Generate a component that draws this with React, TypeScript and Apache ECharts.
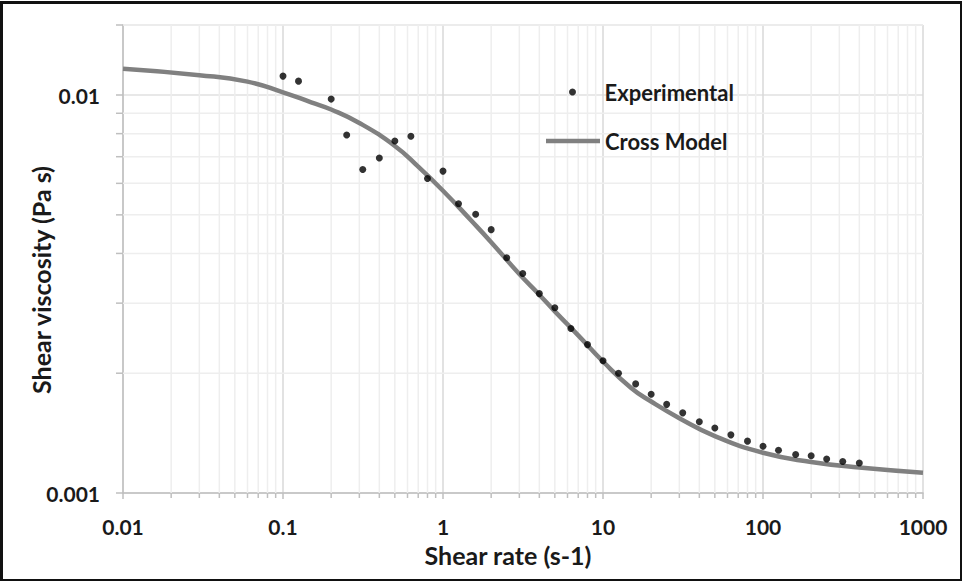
import React, { useEffect, useRef } from "react";
import * as echarts from "echarts";

const X_MIN = 0.01;
const X_MAX = 1000;
const Y_MIN = 0.001;
const Y_MAX = 0.015;

const xExp = [0.1, 0.125, 0.2, 0.25, 0.315, 0.4, 0.5, 0.63, 0.8, 1, 1.25, 1.6, 2, 2.5, 3.15, 4, 5, 6.3, 8, 10, 12.5, 16, 20, 25, 31.5, 40, 50, 63, 80, 100, 125, 160, 200, 250, 315, 400];
const yExp = [0.01116, 0.01084, 0.00977, 0.00794, 0.0065, 0.00695, 0.00767, 0.00788, 0.00617, 0.00644, 0.00533, 0.00502, 0.00459, 0.0039, 0.00356, 0.00317, 0.00292, 0.00259, 0.00236, 0.00215, 0.002, 0.00188, 0.00177, 0.00167, 0.00159, 0.00151, 0.001456, 0.0014, 0.00135, 0.00131, 0.00128, 0.00125, 0.00124, 0.001217, 0.0012, 0.00119];

const xModel = [0.01, 0.03, 0.06, 0.1, 0.15, 0.2, 0.3, 0.5, 0.7, 1, 1.5, 2, 3, 4, 5, 7, 10, 15, 20, 30, 50, 100, 200, 400, 1000];
const yModel = [0.01164, 0.01122, 0.01081, 0.01016, 0.00959, 0.0092, 0.00851, 0.00745, 0.00661, 0.00575, 0.00484, 0.00427, 0.00355, 0.00315, 0.00286, 0.00249, 0.00214, 0.001837, 0.001698, 0.001542, 0.00139, 0.001262, 0.001197, 0.001159, 0.001125];

const xMinorGrid = [0.02, 0.03, 0.04, 0.05, 0.06, 0.07, 0.08, 0.09, 0.2, 0.3, 0.4, 0.5, 0.6, 0.7, 0.8, 0.9, 2, 3, 4, 5, 6, 7, 8, 9, 20, 30, 40, 50, 60, 70, 80, 90, 200, 300, 400, 500, 600, 700, 800, 900];
const yMinorGrid = [0.002, 0.003, 0.004, 0.005, 0.006, 0.007, 0.008, 0.009, 0.015];

const seriesNames = ["Experimental", "Cross Model"];
const xTitle = "Shear rate (s-1)";
const yTitle = "Shear viscosity (Pa s)";

const FONT = "Lato, 'Open Sans', sans-serif";
const TXT = "#1a1a1a";

function fmt(v: number) {
  const l = Math.log10(v);
  if (Math.abs(l - Math.round(l)) > 1e-6) return "";
  return String(Number(v.toPrecision(6)));
}

export default function App() {
  const ref = useRef<HTMLDivElement>(null);
  useEffect(() => {
    if (!ref.current) return;
    const chart = echarts.init(ref.current, undefined, { renderer: "svg" });
    const legendText = { fontFamily: FONT, fontWeight: "bold", fontSize: 22, color: TXT };
    const option: any = {
      animation: false,
      backgroundColor: "#ffffff",
      grid: { left: 123, right: 40, top: 25, bottom: 88, containLabel: false },
      graphic: [
        {
          type: "text",
          x: 41,
          y: 280,
          rotation: Math.PI / 2,
          silent: true,
          style: {
            text: yTitle,
            fontFamily: FONT,
            fontWeight: "bold",
            fontSize: 25,
            fill: TXT,
            align: "center",
            verticalAlign: "middle",
          },
        },
      ],
      legend: [
        {
          data: [{ name: seriesNames[0], icon: "circle" }],
          left: 569,
          top: 81,
          padding: 0,
          itemWidth: 54,
          itemHeight: 7,
          itemStyle: { color: "#000000" },
          textStyle: legendText,
        },
        {
          data: [{ name: seriesNames[1], icon: "rect" }],
          left: 546,
          top: 130,
          padding: 0,
          itemWidth: 54,
          itemHeight: 4.5,
          itemStyle: { color: "#808080" },
          textStyle: legendText,
        },
      ],
      xAxis: {
        type: "log",
        logBase: 10,
        min: X_MIN,
        max: X_MAX,
        name: xTitle,
        nameLocation: "middle",
        nameGap: 49,
        nameTextStyle: { fontFamily: FONT, fontWeight: "bold", fontSize: 25, color: TXT, padding: [0, 30, 0, 0] },
        axisLine: { show: true, lineStyle: { color: "#bfbfbf", width: 1.5 } },
        axisTick: { show: true, length: 6, lineStyle: { color: "#bfbfbf", width: 1.5 } },
        axisLabel: { margin: 23, formatter: fmt, fontFamily: FONT, fontWeight: "bold", fontSize: 21, color: TXT },
        splitLine: { show: true, lineStyle: { color: "#d9d9d9", width: 1.5 } },
      },
      yAxis: {
        type: "log",
        logBase: 10,
        min: Y_MIN,
        max: Y_MAX,
        axisLine: { show: true, lineStyle: { color: "#bfbfbf", width: 1.5 } },
        axisTick: { show: true, length: 7, lineStyle: { color: "#bfbfbf", width: 1.5 } },
        axisLabel: { margin: 23, formatter: fmt, fontFamily: FONT, fontWeight: "bold", fontSize: 21, color: TXT, showMaxLabel: false },
        splitLine: { show: true, lineStyle: { color: "#e0e0e0", width: 1.5 } },
      },
      series: [
        {
          type: "custom",
          name: "xgrid",
          z: 1,
          silent: true,
          clip: false,
          data: xMinorGrid.map((v) => [v, Y_MIN]),
          renderItem: (params: any, api: any) => {
            const v = api.value(0);
            const p0 = api.coord([v, Y_MIN]);
            const p1 = api.coord([v, Y_MAX]);
            return {
              type: "group",
              children: [
                { type: "line", shape: { x1: p0[0], y1: p0[1], x2: p1[0], y2: p1[1] }, style: { stroke: "#eeeeee", lineWidth: 1.5 } },
                { type: "line", shape: { x1: p0[0], y1: p0[1], x2: p0[0], y2: p0[1] + 5 }, style: { stroke: "#bfbfbf", lineWidth: 1.5 } },
              ],
            };
          },
        },
        {
          type: "custom",
          name: "ygrid",
          z: 1,
          silent: true,
          clip: false,
          data: yMinorGrid.map((v) => [X_MIN, v]),
          renderItem: (params: any, api: any) => {
            const v = api.value(1);
            const p0 = api.coord([X_MIN, v]);
            const p1 = api.coord([X_MAX, v]);
            return {
              type: "group",
              children: [
                { type: "line", shape: { x1: p0[0], y1: p0[1], x2: p1[0], y2: p1[1] }, style: { stroke: "#eeeeee", lineWidth: 1.5 } },
                { type: "line", shape: { x1: p0[0] - 7, y1: p0[1], x2: p0[0], y2: p0[1] }, style: { stroke: "#bfbfbf", lineWidth: 1.5 } },
              ],
            };
          },
        },
        {
          type: "line",
          name: seriesNames[1],
          z: 3,
          data: xModel.map((x, i) => [x, yModel[i]]),
          smooth: 0.5,
          symbol: "none",
          showSymbol: false,
          lineStyle: { color: "#808080", width: 4.5 },
          itemStyle: { color: "#808080" },
        },
        {
          type: "scatter",
          name: seriesNames[0],
          z: 4,
          data: xExp.map((x, i) => [x, yExp[i]]),
          symbol: "circle",
          symbolSize: 7,
          itemStyle: { color: "#000000" },
        },
      ],
    };
    chart.setOption(option);
    return () => chart.dispose();
  }, []);
  return (
    <div style={{ position: "fixed", left: 0, top: 0, width: 963, height: 581, background: "#fff" }}>
      <div ref={ref} style={{ position: "absolute", left: 0, top: 0, width: 963, height: 581 }} />
      <div
        style={{
          position: "absolute",
          left: 0,
          top: 1,
          width: 962,
          height: 580,
          boxSizing: "border-box",
          borderTop: "3px solid #111",
          borderLeft: "3px solid #111",
          borderRight: "2px solid #111",
          borderBottom: "2px solid #111",
          pointerEvents: "none",
        }}
      />
    </div>
  );
}
